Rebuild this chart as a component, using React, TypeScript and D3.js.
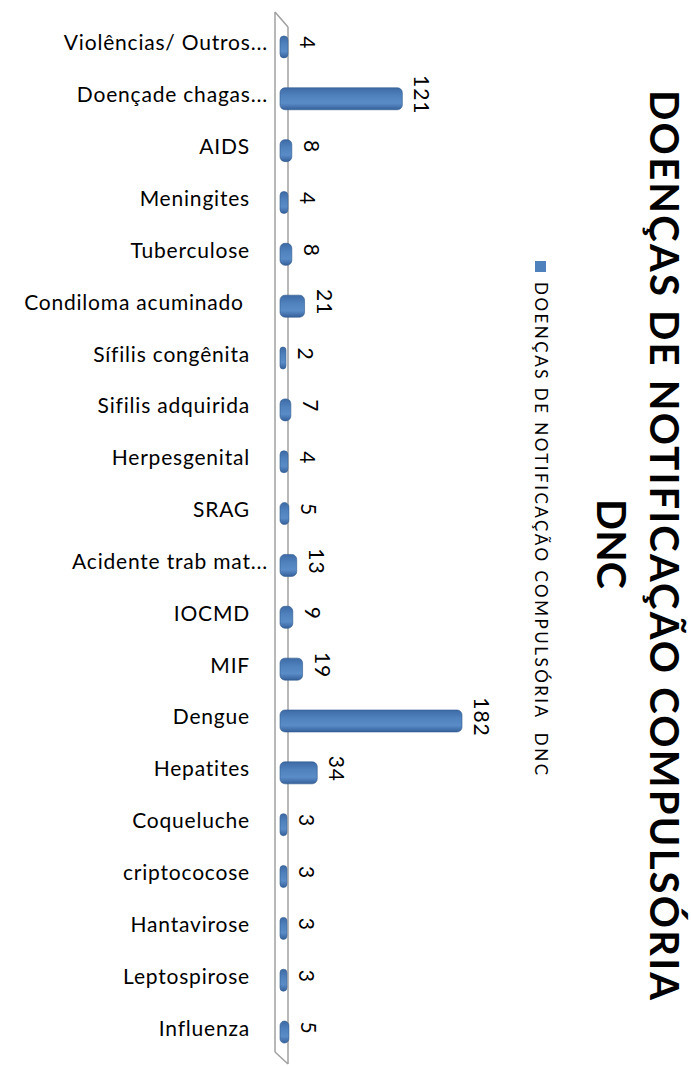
import React from "react";
import * as d3 from "d3";

const categories = [
  "Violências/ Outros...",
  "Doençade chagas...",
  "AIDS",
  "Meningites",
  "Tuberculose",
  "Condiloma acuminado ",
  "Sífilis congênita",
  "Sifilis adquirida",
  "Herpesgenital",
  "SRAG",
  "Acidente trab mat...",
  "IOCMD",
  "MIF",
  "Dengue",
  "Hepatites",
  "Coqueluche",
  "criptococose",
  "Hantavirose",
  "Leptospirose",
  "Influenza",
];
const values = [4, 121, 8, 4, 8, 21, 2, 7, 4, 5, 13, 9, 19, 182, 34, 3, 3, 3, 3, 5];
const titleLines = ["DOENÇAS DE NOTIFICAÇÃO COMPULSÓRIA", "DNC"];
const seriesName = "DOENÇAS DE NOTIFICAÇÃO COMPULSÓRIA  DNC";

const W = 691;
const H = 1066;
const FONT = "Lato, 'Open Sans', sans-serif";

export default function App() {
  const y = d3.scaleBand<string>().domain(categories).range([17, 1054]).paddingInner(0).paddingOuter(0);
  const x = d3.scaleLinear().domain([0, 182]).range([284, 462]);
  const barStart = 280;
  const barH = 22;
  const barOffset = 4;

  return (
    <svg width={W} height={H} style={{ position: "absolute", left: 0, top: 0, background: "#fff" }}>
      <defs>
        <linearGradient id="barGrad" x1="0" y1="0" x2="0" y2="1">
          <stop offset="0" stopColor="#3d6aa5" />
          <stop offset="0.35" stopColor="#4f81bd" />
          <stop offset="0.7" stopColor="#5a8cc8" />
          <stop offset="1" stopColor="#35609a" />
        </linearGradient>
      </defs>
      {/* wall */}
      <g stroke="#a0a0a0" strokeWidth={1.5} fill="none">
        <line x1={275} y1={12} x2={275} y2={1052} />
        <line x1={288} y1={27} x2={288} y2={1064} />
        <line x1={275} y1={12} x2={288} y2={27} />
        <line x1={275} y1={1052} x2={288} y2={1064} />
      </g>
      {/* bars */}
      {categories.map((c, i) => {
        const cy = (y(c) as number) + y.bandwidth() / 2;
        const xe = x(values[i]);
        return (
          <g key={c}>
            <rect
              x={barStart}
              y={cy + barOffset - barH / 2}
              width={Math.max(xe - barStart, 3)}
              height={barH}
              rx={Math.min(5, (xe - barStart) / 2)}
              fill="url(#barGrad)"
              stroke="#2f5a8f"
              strokeWidth={0.6}
            />
            <text
              transform={`translate(${xe + 12},${cy}) rotate(90)`}
              textAnchor="middle"
              fontFamily={FONT}
              fontSize={21}
              letterSpacing={1}
              fill="#000"
            >
              {values[i]}
            </text>
          </g>
        );
      })}
      {/* category labels */}
      {categories.map((c) => {
        const cy = (y(c) as number) + y.bandwidth() / 2;
        const truncated = c.endsWith("...");
        return (
          <text
            key={c}
            x={truncated ? 268 : 250}
            y={cy + 7.5}
            textAnchor="end"
            fontFamily={FONT}
            fontSize={21}
            letterSpacing={0.8}
            fill="#000"
            xmlSpace="preserve"
          >
            {c}
          </text>
        );
      })}
      {/* legend */}
      <rect x={535} y={261} width={11} height={11} fill="#4f81bd" />
      <text
        transform="translate(535,282) rotate(90)"
        fontFamily={FONT}
        fontSize={17}
        textLength={493}
        lengthAdjust="spacing"
        fill="#000"
        xmlSpace="preserve"
      >
        {seriesName}
      </text>
      {/* title */}
      <text
        transform="translate(650,545) rotate(90)"
        textAnchor="middle"
        fontFamily={FONT}
        fontWeight="bold"
        fontSize={40}
        textLength={910}
        lengthAdjust="spacing"
        fill="#000"
      >
        {titleLines[0]}
      </text>
      <text
        transform="translate(597,544) rotate(90)"
        textAnchor="middle"
        fontFamily={FONT}
        fontWeight="bold"
        fontSize={41}
        fill="#000"
      >
        {titleLines[1]}
      </text>
    </svg>
  );
}
